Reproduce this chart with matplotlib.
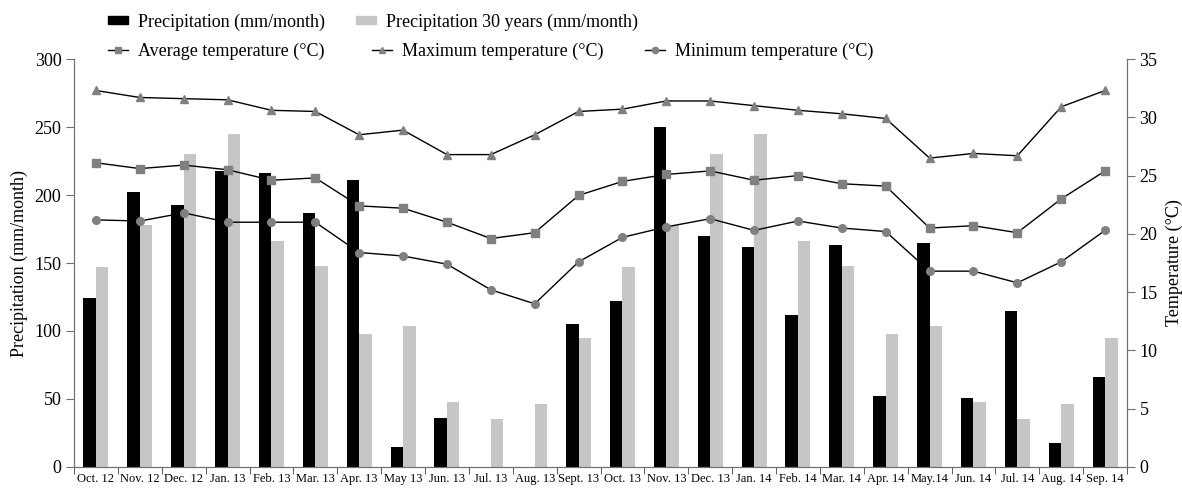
import matplotlib.pyplot as plt
import numpy as np
from matplotlib.lines import Line2D
from matplotlib.patches import Rectangle

plt.rcParams['font.family'] = ['Liberation Serif', 'DejaVu Serif']

months = ['Oct. 12', 'Nov. 12', 'Dec. 12', 'Jan. 13', 'Feb. 13', 'Mar. 13', 'Apr. 13',
          'May 13', 'Jun. 13', 'Jul. 13', 'Aug. 13', 'Sept. 13', 'Oct. 13', 'Nov. 13',
          'Dec. 13', 'Jan. 14', 'Feb. 14', 'Mar. 14', 'Apr. 14', 'May.14', 'Jun. 14',
          'Jul. 14', 'Aug. 14', 'Sep. 14']

# precipitation (mm/month)
precip = [124, 202, 193, 218, 216, 187, 211, 15, 36, 0, 0, 105,
          122, 250, 170, 162, 112, 163, 52, 165, 51, 115, 18, 66]
# 30 year normal, same for both years
precip30 = [147, 178, 230, 245, 166, 148, 98, 104, 48, 35, 46, 95,
            147, 178, 230, 245, 166, 148, 98, 104, 48, 35, 46, 95]

# temperatures (°C)
t_max = [32.3, 31.7, 31.6, 31.5, 30.6, 30.5, 28.5, 28.9, 26.8, 26.8, 28.5, 30.5,
         30.7, 31.4, 31.4, 31.0, 30.6, 30.3, 29.9, 26.5, 26.9, 26.7, 30.9, 32.3]
t_avg = [26.1, 25.6, 25.9, 25.5, 24.6, 24.8, 22.4, 22.2, 21.0, 19.6, 20.1, 23.3,
         24.5, 25.1, 25.4, 24.6, 25.0, 24.3, 24.1, 20.5, 20.7, 20.1, 23.0, 25.4]
t_min = [21.2, 21.1, 21.8, 21.0, 21.0, 21.0, 18.4, 18.1, 17.4, 15.2, 14.0, 17.6,
         19.7, 20.6, 21.3, 20.3, 21.1, 20.5, 20.2, 16.8, 16.8, 15.8, 17.6, 20.3]

x = np.arange(len(months))
w = 0.285

fig = plt.figure(figsize=(11.82, 4.91), dpi=100)
ax = fig.add_axes([0.0626, 0.0489, 0.8909, 0.8309])
ax2 = ax.twinx()

ax.bar(x - w/2, precip, w, color='black', zorder=2)
ax.bar(x + w/2, precip30, w, color='#c6c6c6', zorder=2)

mk = '#808080'
ax2.plot(x, t_avg, color='black', lw=1, marker='s', ms=6, mfc=mk, mec=mk, zorder=3)
ax2.plot(x, t_max, color='black', lw=1, marker='^', ms=6, mfc=mk, mec=mk, zorder=3)
ax2.plot(x, t_min, color='black', lw=1, marker='o', ms=5.5, mfc=mk, mec=mk, zorder=3)

ax.set_xlim(-0.5, len(months) - 0.5)
ax.set_ylim(0, 300)
ax2.set_ylim(0, 35)
ax.set_yticks(range(0, 301, 50))
ax2.set_yticks(range(0, 36, 5))

ax.set_xticks(x)
ax.set_xticklabels(months, fontsize=9)
ax.set_xticks(np.arange(-0.5, len(months), 1), minor=True)
ax.tick_params(axis='x', which='major', length=0, pad=4)
ax.tick_params(axis='x', which='minor', length=5, color='#404040')

for a in (ax, ax2):
    a.spines['top'].set_visible(False)
    for s in ('left', 'right', 'bottom'):
        a.spines[s].set_color('#707070')
ax.tick_params(axis='y', labelsize=13, length=6, color='#707070', pad=3)
ax2.tick_params(axis='y', labelsize=13, length=6, color='#707070', pad=3)

ax.set_ylabel('Precipitation (mm/month)', fontsize=13, labelpad=5)
ax2.set_ylabel('Temperature (°C)', fontsize=13, labelpad=6)

h_p = Rectangle((0, 0), 1, 1, color='black')
h_p30 = Rectangle((0, 0), 1, 1, color='#c6c6c6')
h_avg = Line2D([], [], color='black', lw=1, marker='s', ms=4.5, mfc=mk, mec=mk)
h_max = Line2D([], [], color='black', lw=1, marker='^', ms=4.5, mfc=mk, mec=mk)
h_min = Line2D([], [], color='black', lw=1, marker='o', ms=4.5, mfc=mk, mec=mk)

leg_kw = dict(frameon=False, fontsize=13, handlelength=1.1, handleheight=0.3,
              handletextpad=0.55, borderpad=0, borderaxespad=0, loc='center left')
W, H = 1182.0, 491.0
# each legend entry placed where it sits in the reference
entries = [
    (h_p, 'Precipitation (mm/month)', 108, 22),
    (h_p30, 'Precipitation 30 years (mm/month)', 356, 22),
    (h_avg, 'Average temperature (°C)', 108, 51),
    (h_max, 'Maximum temperature (°C)', 372, 51),
    (h_min, 'Minimum temperature (°C)', 645, 51),
]
for h, lab, px, py in entries:
    fig.legend([h], [lab], bbox_to_anchor=(px / W, 1 - py / H), **leg_kw)

fig.savefig('out.png', dpi=100)
